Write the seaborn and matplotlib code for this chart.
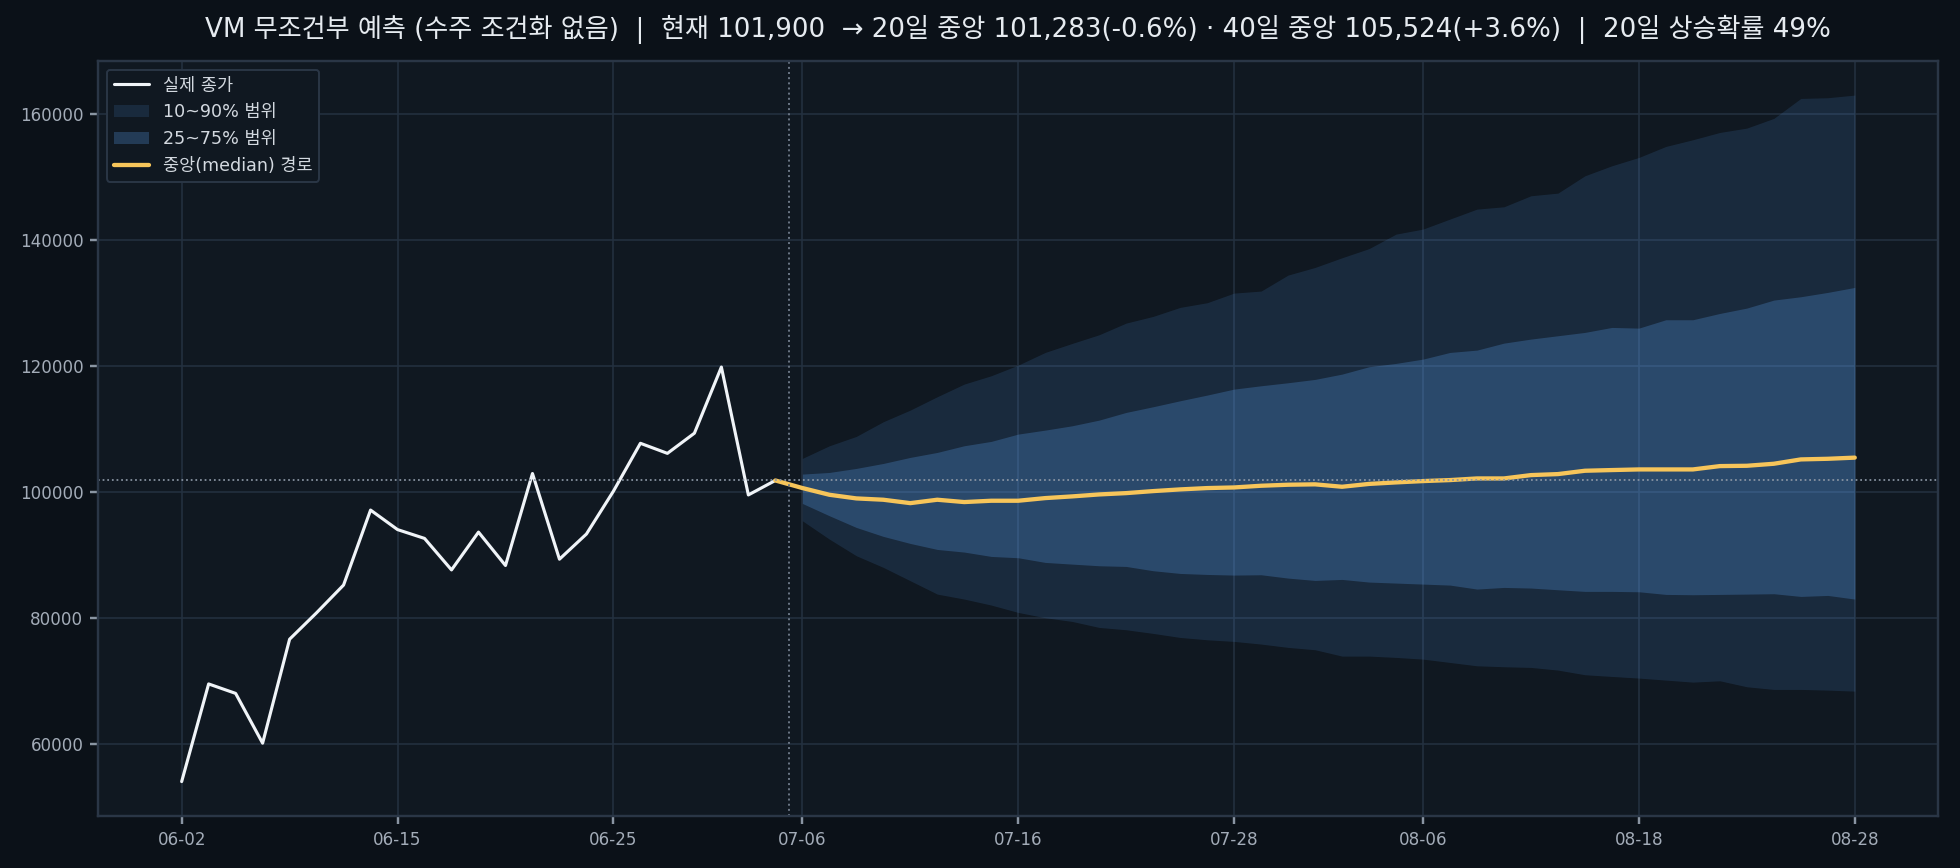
import numpy as np
import pandas as pd
import seaborn as sns
import matplotlib
matplotlib.use("Agg")
import matplotlib.pyplot as plt

# 실제 종가 (06-02 ~ 07-03)
actual = [54100, 69600, 68100, 60200, 76700, 80900, 85300, 97200, 94100, 92700,
          87700, 93700, 88400, 103000, 89400, 93400, 100200, 107800, 106200, 109400,
          119900, 99600, 101900]

# 중앙 경로 (현재값부터 40일)
median = [101900, 100700, 99630, 99050, 98840, 98300, 98840, 98470, 98680, 98680,
          99100, 99370, 99680, 99890, 100210, 100480, 100690, 100790, 101060, 101220,
          101283, 100900, 101350, 101590, 101800, 101960, 102220, 102220, 102750, 102910,
          103440, 103550, 103650, 103650, 103650, 104180, 104230, 104550, 105240, 105340,
          105524]

p90 = [105400, 107400, 108890, 111220, 113070, 115190, 117200, 118520, 120210, 122220,
       123650, 125030, 126880, 127940, 129370, 130110, 131640, 131960, 134500, 135710,
       137250, 138700, 141000, 141800, 143390, 144970, 145340, 147090, 147510, 150260,
       151850, 153170, 154920, 155980, 157140, 157830, 159370, 162540, 162650, 163070]
p75 = [102910, 103170, 103810, 104600, 105560, 106350, 107410, 108100, 109260, 109890,
       110580, 111480, 112700, 113600, 114550, 115450, 116400, 116930, 117410, 117940,
       118780, 119950, 120480, 121160, 122220, 122590, 123700, 124340, 124870, 125400,
       126190, 126080, 127410, 127410, 128410, 129260, 130530, 131060, 131750, 132540]
p25 = [98250, 96300, 94440, 93020, 91900, 90950, 90530, 89840, 89630, 88890,
       88620, 88360, 88250, 87570, 87140, 86980, 86880, 86930, 86400, 86030,
       86190, 85770, 85610, 85450, 85290, 84660, 84920, 84820, 84550, 84290,
       84290, 84230, 83810, 83760, 83810, 83860, 83920, 83490, 83650, 83070]
p10 = [95500, 92590, 89950, 88100, 85980, 83860, 83070, 82120, 80950, 80110,
       79520, 78570, 78200, 77620, 76980, 76610, 76350, 75930, 75400, 75030,
       74020, 74020, 73810, 73540, 73010, 72480, 72330, 72220, 71800, 71060,
       70790, 70530, 70210, 69890, 70100, 69150, 68730, 68730, 68620, 68460]

tick_labels = ["06-02", "06-15", "06-25", "07-06", "07-16", "07-28", "08-06", "08-18", "08-28"]
tick_idx = [0, 8, 16, 23, 31, 39, 46, 54, 62]
up_prob = 49

BG = "#0b1118"
AX_BG = "#101821"
GRID = "#243140"
TXT = "#a3acb8"

sns.set_theme(style="darkgrid", rc={
    "figure.facecolor": BG, "axes.facecolor": AX_BG, "axes.edgecolor": "#2a3646",
    "grid.color": GRID, "grid.linewidth": 0.8, "xtick.color": TXT, "ytick.color": TXT,
    "text.color": "#e6ebf0", "axes.labelcolor": TXT,
    "xtick.bottom": True, "ytick.left": True,
})
plt.rcParams['font.family'] = ['DejaVu Sans', 'Noto Sans CJK KR']

n_hist = len(actual)
cur = actual[-1]
df_hist = pd.DataFrame({"x": np.arange(n_hist), "y": actual})
df_med = pd.DataFrame({"x": np.arange(n_hist - 1, n_hist - 1 + len(median)), "y": median})
xf = np.arange(n_hist, n_hist + len(p90))

fig, ax = plt.subplots(figsize=(14, 6.2), dpi=140)

ax.fill_between(xf, p10, p90, color="#58a6ff", alpha=0.13, linewidth=0, label="10~90% 범위")
ax.fill_between(xf, p25, p75, color="#62acff", alpha=0.24, linewidth=0, label="25~75% 범위")
sns.lineplot(data=df_hist, x="x", y="y", color="#f0f4f8", linewidth=1.6, ax=ax, label="실제 종가")
sns.lineplot(data=df_med, x="x", y="y", color="#f7c55a", linewidth=2.2, ax=ax, label="중앙(median) 경로")

ax.axvline(n_hist - 0.5, color="#6c7786", linestyle=":", linewidth=1)
ax.axhline(cur, color="#8a95a3", linestyle=":", linewidth=0.9)

ax.set_xticks(tick_idx)
ax.set_xticklabels(tick_labels)
ax.tick_params(axis="both", labelsize=8.6, length=4, color="#8a95a3")
ax.set_xlabel("")
ax.set_ylabel("")
for s in ax.spines.values():
    s.set_visible(True)
    s.set_color("#2a3646")

m20, m40 = median[20], median[40]
title = (f"VM 무조건부 예측 (수주 조건화 없음)  |  현재 {cur:,}  → 20일 중앙 {m20:,}({(m20/cur-1)*100:+.1f}%)"
         f" · 40일 중앙 {m40:,}({(m40/cur-1)*100:+.1f}%)  |  20일 상승확률 {up_prob}%")
ax.set_title(title, fontsize=13.45, color="#e6ebf0", pad=12)

h, l = ax.get_legend_handles_labels()
order = [l.index("실제 종가"), l.index("10~90% 범위"), l.index("25~75% 범위"), l.index("중앙(median) 경로")]
leg = ax.legend([h[i] for i in order], [l[i] for i in order], loc="upper left", fontsize=9,
                facecolor=AX_BG, edgecolor="#2a3646", framealpha=1)
for t in leg.get_texts():
    t.set_color("#d3d9e0")

plt.subplots_adjust(left=0.05, right=0.989, bottom=0.06, top=0.93)
fig.savefig("out.png", dpi=140, facecolor=BG)
